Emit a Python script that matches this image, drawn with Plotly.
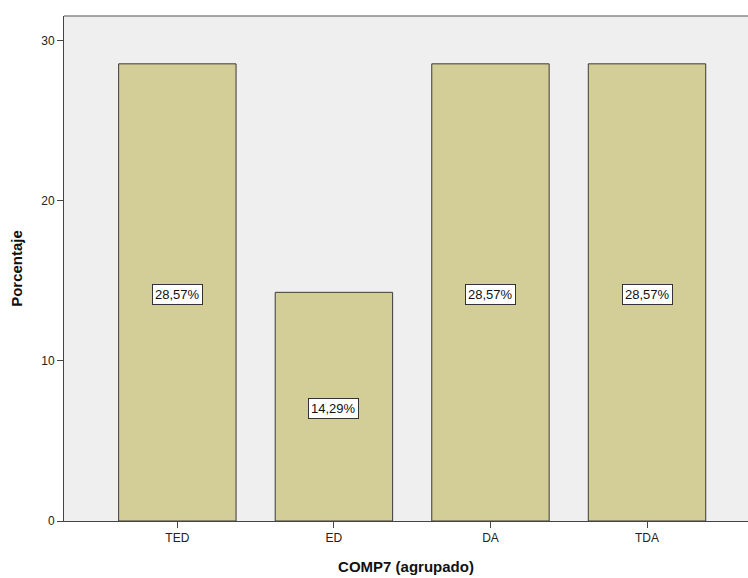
import plotly.graph_objects as go

categories = ["TED", "ED", "DA", "TDA"]
percentages = [28.57, 14.29, 28.57, 28.57]
y_ticks = [0, 10, 20, 30]

labels = [f"{v:.2f}".replace(".", ",") + "%" for v in percentages]
xs = list(range(len(categories)))

fig = go.Figure()
fig.add_trace(go.Bar(
    x=xs, y=percentages, width=0.75,
    marker=dict(color="#D3CE97", line=dict(color="#3a3a3a", width=1)),
    hoverinfo="skip",
))

for x, v, t in zip(xs, percentages, labels):
    fig.add_annotation(
        x=x, y=v / 2, text=t, showarrow=False, yshift=-2,
        font=dict(family="Liberation Sans, Arial", size=13, color="#111"),
        bgcolor="white", bordercolor="#333", borderwidth=1, borderpad=2,
    )

fig.add_shape(type="line", xref="paper", yref="paper", x0=0, x1=1, y0=1, y1=1,
              line=dict(color="#888", width=1.5))

fig.update_layout(
    width=748, height=578,
    margin=dict(l=64, r=0, t=16, b=57),
    paper_bgcolor="white", plot_bgcolor="#EFEFEF",
    showlegend=False,
    font=dict(family="Liberation Sans, Arial", size=12, color="#222"),
    xaxis=dict(
        tickmode="array", tickvals=xs, ticktext=categories,
        range=[-0.724, 3.645], showgrid=False, zeroline=False,
        showline=True, linecolor="#444", linewidth=1,
        ticks="outside", ticklen=6, tickcolor="#444",
        title=dict(text="<b>COMP7 (agrupado)</b>", font=dict(size=15, color="#111"), standoff=17),
    ),
    yaxis=dict(
        tickmode="array", tickvals=y_ticks,
        range=[0, 31.56], showgrid=False, zeroline=False,
        showline=True, linecolor="#444", linewidth=1,
        ticks="outside", ticklen=6, tickcolor="#444",
        title=dict(text="<b>Porcentaje</b>", font=dict(size=15, color="#111"), standoff=14),
    ),
)

fig.write_html("out.html", config={"displayModeBar": False},
               post_script="document.body.style.margin='0';document.body.style.overflow='hidden';")
